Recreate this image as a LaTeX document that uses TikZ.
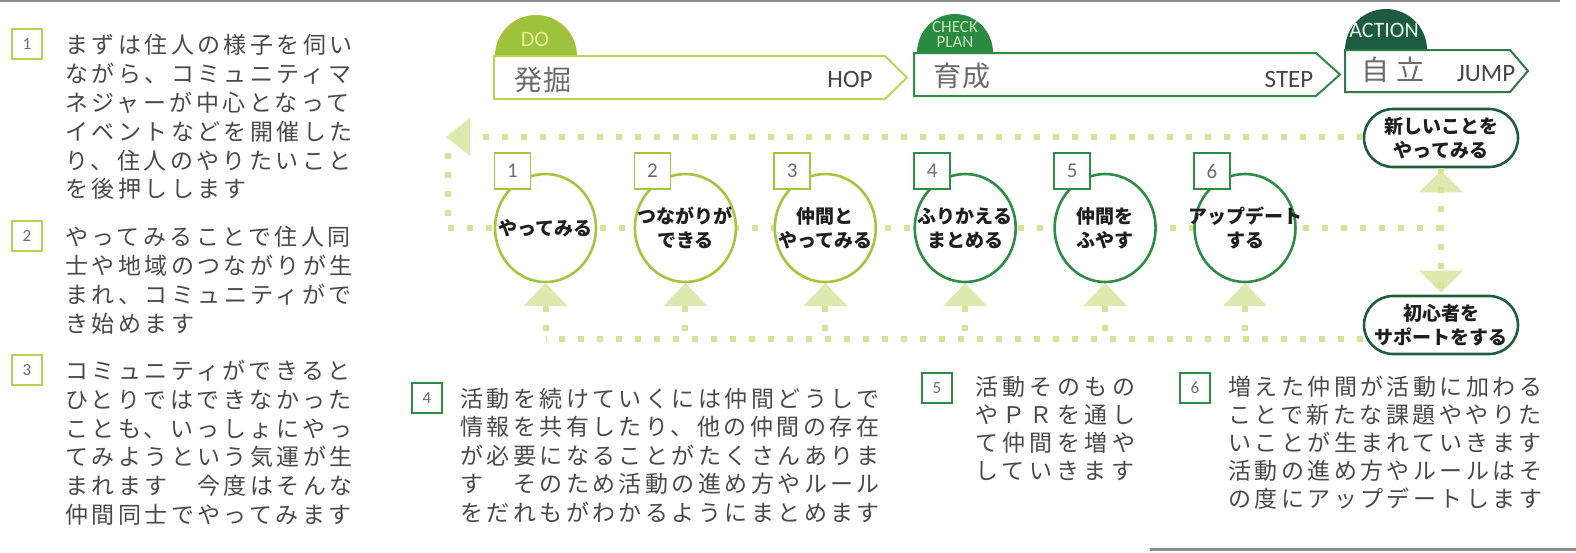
\documentclass[tikz,border=0pt]{standalone}
\usepackage{fontspec}
\usetikzlibrary{shapes.geometric}
\setmainfont{Carlito}
\newfontfamily\latinf{Carlito}
\newfontfamily\jp{Noto Sans CJK JP}
\newfontfamily\jpbody[LetterSpace=15]{Noto Sans CJK JP}
\newfontfamily\jpwide[LetterSpace=19]{Noto Sans CJK JP}
\newfontfamily\jphead[LetterSpace=6]{Noto Sans CJK JP}
\newfontfamily\jpheadw[LetterSpace=22]{Noto Sans CJK JP}

\definecolor{lg}{HTML}{A3C63E}
\definecolor{lgban}{HTML}{BCD45C}
\definecolor{lgtab}{HTML}{9DC23B}
\definecolor{lgbox}{HTML}{B7D05A}
\definecolor{mg}{HTML}{2E8C45}
\definecolor{mgtab}{HTML}{2A8B40}
\definecolor{dg}{HTML}{1F5E3B}
\definecolor{dgtab}{HTML}{1D5B3F}
\definecolor{dgban}{HTML}{2F7A48}
\definecolor{dotc}{HTML}{D3E398}
\definecolor{arrc}{HTML}{DDE9AE}
\definecolor{txt}{HTML}{4A4A4A}
\definecolor{head}{HTML}{6B6B6B}
\definecolor{eng}{HTML}{454545}
\definecolor{numc}{HTML}{6E6E6E}
\definecolor{ink}{HTML}{1E1E1E}
\definecolor{dotxt}{HTML}{E6EE9A}
\definecolor{cktxt}{HTML}{C5E6C0}
\definecolor{actxt}{HTML}{E6F0EA}
\definecolor{edge}{HTML}{8C8C8C}

\tikzset{
  dots/.style={draw=dotc, line width=6pt, dash pattern=on 6pt off 13pt},
  tri/.style={fill=arrc},
  bubble/.style={ellipse, line width=2.6pt, fill=white, minimum width=101pt, minimum height=108pt, inner sep=0pt},
  btext/.style={font=\jp\bfseries\fontsize{19}{24}\selectfont, text=ink, align=center, inner sep=0pt},
  cnum/.style={draw, line width=1.8pt, fill=white, minimum size=36pt, inner sep=0pt, font=\latinf\fontsize{21}{21}\selectfont, text=numc},
  lnum/.style={draw, line width=1.6pt, fill=white, minimum size=30pt, inner sep=0pt, font=\latinf\fontsize{17}{17}\selectfont, text=numc},
  body/.style={font=\jpbody\fontsize{23}{23}\selectfont, text=txt, inner sep=0pt, anchor=base west},
  bodyw/.style={font=\jpwide\fontsize{23}{23}\selectfont, text=txt, inner sep=0pt, anchor=base west},
  pill/.style={draw=dg, line width=2.6pt, fill=white, rounded corners=29pt, minimum width=154pt, minimum height=58pt, inner sep=0pt, align=center, font=\jp\bfseries\fontsize{19}{24}\selectfont, text=ink},
  banner/.style={fill=white, line width=2pt, line join=miter},
  headtxt/.style={font=\jphead\fontsize{28}{28}\selectfont, text=head, inner sep=0pt},
  engtxt/.style={font=\latinf\fontsize{25}{25}\selectfont, text=eng, inner sep=0pt},
  tabtxt/.style={font=\latinf\fontsize{22}{22}\selectfont, inner sep=0pt},
}

\newcommand\textblock[5]{\foreach \tline [count=\k from 0] in {#5} {\node[body] (#1-\k) at (#2, {#3+#4*\k}) {\tline};}}

\begin{document}
\begin{tikzpicture}[x=1pt,y=-1pt]
\useasboundingbox (0,0) rectangle (1576,552);
\fill[white] (0,0) rectangle (1576,552);

% page edges
\draw[edge, line width=2pt] (0,1) -- (1560,1);
\draw[edge, line width=3pt] (1150,549.5) -- (1576,549.5);

% ---------- banners ----------
\fill[lgtab] (495,56) arc[start angle=180, end angle=0, x radius=41pt, y radius=41pt] -- cycle;
\fill[mgtab] (917,53) arc[start angle=180, end angle=0, x radius=38pt, y radius=39pt] -- cycle;
\fill[dgtab] (1345,50) arc[start angle=180, end angle=0, x radius=41pt, y radius=41pt] -- cycle;

\draw[banner, draw=lgban] (494,56) -- (885,56) -- (907,77.5) -- (885,99) -- (494,99) -- cycle;
\draw[banner, draw=mg] (914,53) -- (1316,53) -- (1340,74.5) -- (1316,96) -- (914,96) -- cycle;
\draw[banner, draw=dgban] (1345,50) -- (1510,50) -- (1528,71) -- (1510,92) -- (1345,92) -- cycle;

\node[tabtxt, text=dotxt] (tdo) at (535,39) {DO};
\node[tabtxt, text=cktxt, font=\latinf\fontsize{17}{17}\selectfont] (tck) at (955,27) {CHECK};
\node[tabtxt, text=cktxt, font=\latinf\fontsize{17}{17}\selectfont] (tpl) at (955,42) {PLAN};
\node[tabtxt, text=actxt] (tac) at (1384,30) {ACTION};

\node[headtxt] (h1) at (543,80) {発掘};
\node[engtxt] (e1) at (850,79) {HOP};
\node[headtxt] (h2) at (962,76) {育成};
\node[engtxt] (e2) at (1289,79) {STEP};
\node[headtxt, font=\jpheadw\fontsize{28}{28}\selectfont] (h3) at (1393,70) {自立};
\node[engtxt] (e3) at (1486,74) {JUMP};

% ---------- pills ----------
\node[pill] (p1) at (1441,138) {新しいことを\\やってみる};
\node[pill] (p2) at (1441,325) {初心者を\\サポートをする};

% ---------- bubbles (positions) ----------
\foreach \i/\cx in {1/545.5,2/685.4,3/825.3,4/965.2,5/1105.1,6/1245}{
  \coordinate (c\i) at (\cx,228);
}
\coordinate (tl) at (448,137);
\coordinate (ml) at (448,228);
\coordinate (bl) at (545.5,339);
\coordinate (vr) at (1441,228);

% arrowheads
\fill[tri] (446,137) -- (470,118) -- (470,156) -- cycle;
\fill[tri] ([yshift=-2pt]p1.south) -- ++(-22,22) -- ++(44,0) -- cycle;
\fill[tri] ([yshift=2pt]p2.north) -- ++(-22,-22) -- ++(44,0) -- cycle;
\foreach \i in {1,...,6}{
  \fill[tri] ([yshift=-55pt]c\i) -- ++(-22,23) -- ++(44,0) -- cycle;
}

% dotted connectors
\draw[dots] (p1.west |- tl) -- (472,137);
\draw[dots] (448,153) -- (ml);
\draw[dots] (ml) -- (vr);
\draw[dots] (p1.south) -- (p2.north);
\draw[dots] (p2.west |- bl) -- (bl);
\foreach \i in {1,...,6}{
  \draw[dots] ([yshift=-78pt]c\i) -- (c\i |- bl);
}

% bubbles
\foreach \i/\col/\t in {1/lg/{やってみる},2/lg/{つながりが\\できる},3/lg/{仲間と\\やってみる},4/mg/{ふりかえる\\まとめる},5/mg/{仲間を\\ふやす},6/mg/{アップデート\\する}}{
  \node[bubble, draw=\col] (b\i) at (c\i) {};
  \node[btext] (bt\i) at (b\i) {\t};
  \node[cnum, draw=\col] (n\i) at ([xshift=-33pt, yshift=57pt]b\i) {\i};
}

% ---------- left column ----------
\node[lnum, draw=lgbox] (L1) at (27,44) {1};
\node[lnum, draw=lgbox] (L2) at (27,236) {2};
\node[lnum, draw=lgbox] (L3) at (27,370) {3};
\textblock{T1}{65}{53.7}{28.85}{まずは住人の様子を伺い,ながら、コミュニティマ,ネジャーが中心となって,イベントなどを開催した,り、住人のやりたいこと,を後押しします}
\textblock{T2}{65}{245.7}{28.85}{やってみることで住人同,士や地域のつながりが生,まれ、コミュニティがで,き始めます}
\textblock{T3}{65}{379.3}{28.85}{コミュニティができると,ひとりではできなかった,ことも、いっしょにやっ,てみようという気運が生,まれます　今度はそんな,仲間同士でやってみます}

% ---------- bottom blocks ----------
\node[lnum, draw=mg] (L4) at (427,398) {4};
\node[lnum, draw=mg] (L5) at (937,388) {5};
\node[lnum, draw=mg] (L6) at (1195,388) {6};
\textblock{T4}{460}{407.5}{28.45}{活動を続けていくには仲間どうしで,情報を共有したり、他の仲間の存在,が必要になることがたくさんありま,す　そのため活動の進め方やルール,をだれもがわかるようにまとめます}
\foreach \tline [count=\k from 0] in {活動そのもの,やＰＲを通し,て仲間を増や,していきます}{
  \node[bodyw] (T5-\k) at (975, {395.5+28.1*\k}) {\tline};
}
\textblock{T6}{1228}{395.5}{28.1}{増えた仲間が活動に加わる,ことで新たな課題ややりた,いことが生まれていきます,活動の進め方やルールはそ,の度にアップデートします}

\end{tikzpicture}
\end{document}
